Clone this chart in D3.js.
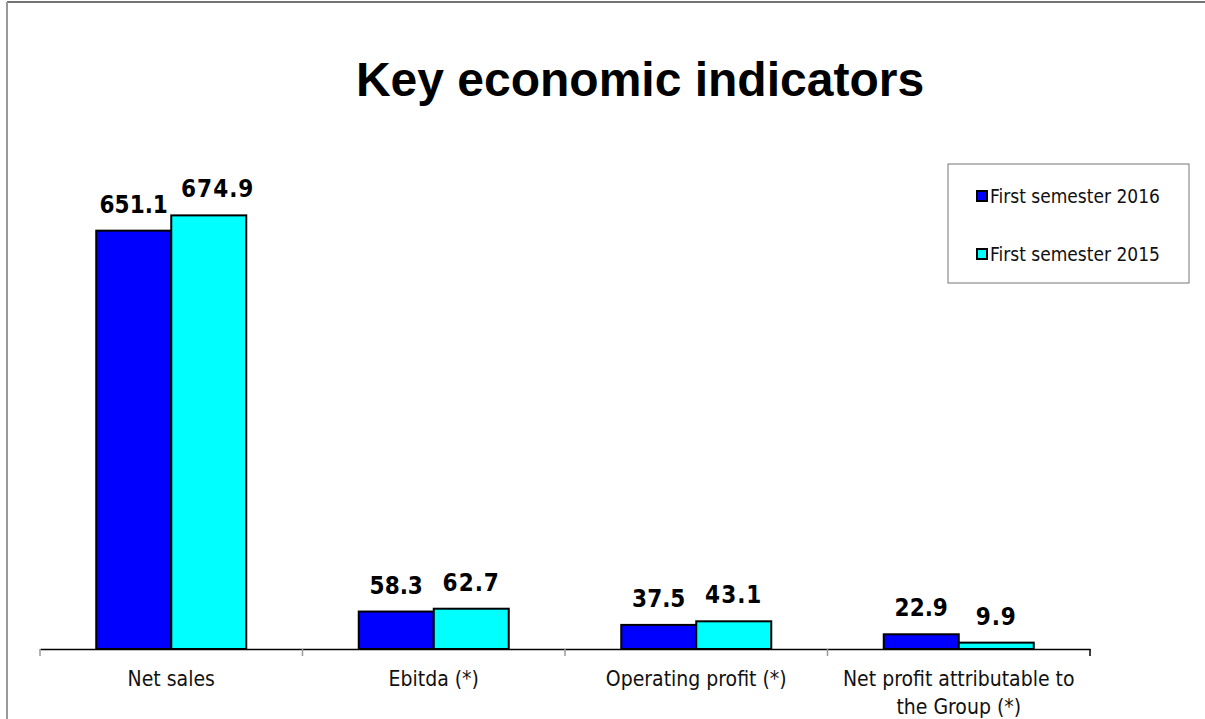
<!DOCTYPE html>
<html>
<head>
<meta charset="utf-8">
<script src="https://cdn.jsdelivr.net/npm/d3@7"></script>
<style>
	body { margin: 0; background: #fff; }
	svg { display: block; }
</style>
</head>
<body>
<svg id="chart"></svg>
<script>
// chart data
var categories = ["Net sales", "Ebitda (*)", "Operating profit (*)", "Net profit attributable to the Group (*)"];
var seriesNames = ["First semester 2016", "First semester 2015"];
var values2016 = [651.1, 58.3, 37.5, 22.9];
var values2015 = [674.9, 62.7, 43.1, 9.9];
var labelText2016 = ["651.1", "58.3", "37.5", "22.9"];
var labelText2015 = ["674.9", "62.7", "43.1", "9.9"];
var colors = ["#0000ff", "#00ffff"];

var width = 1205,
	height = 719;

var svg = d3.select("#chart")
	.attr("width", width)
	.attr("height", height);

// outer frame (only top and left are visible)
svg.append("line")
	.attr("x1", 7).attr("y1", 2).attr("x2", width).attr("y2", 2)
	.attr("stroke", "#444").attr("stroke-width", 1.5);
svg.append("line")
	.attr("x1", 7).attr("y1", 2).attr("x2", 7).attr("y2", height)
	.attr("stroke", "#999").attr("stroke-width", 2);

// title
svg.append("text")
	.attr("x", 640)
	.attr("y", 96)
	.attr("text-anchor", "middle")
	.attr("font-family", "Liberation Sans, Arial, sans-serif")
	.attr("font-weight", "bold")
	.attr("font-size", 48)
	.text("Key economic indicators");

var baseY = 649;

var x0 = d3.scaleBand()
	.domain(categories)
	.range([40, 1090])
	.paddingInner(0)
	.paddingOuter(0);

var x1 = d3.scaleBand()
	.domain(seriesNames)
	.range([0, x0.bandwidth()])
	.paddingInner(0)
	.paddingOuter(0.75);

var y = d3.scaleLinear()
	.domain([0, 800])
	.range([baseY, 135]);

var data = categories.map(function (c, i) {
	return {
		cat: c,
		bars: [
			{ series: seriesNames[0], value: values2016[i], label: labelText2016[i], k: 0, i: i },
			{ series: seriesNames[1], value: values2015[i], label: labelText2015[i], k: 1, i: i }
		]
	};
});

var groups = svg.selectAll(".group")
	.data(data)
	.enter()
	.append("g")
	.attr("class", "group")
	.attr("transform", function (d) { return "translate(" + x0(d.cat) + ",0)"; });

groups.selectAll("rect")
	.data(function (d) { return d.bars; })
	.enter()
	.append("rect")
	.attr("x", function (d) { return x1(d.series); })
	.attr("y", function (d) { return y(d.value); })
	.attr("width", x1.bandwidth())
	.attr("height", function (d) { return baseY - y(d.value); })
	.attr("fill", function (d) { return colors[d.k]; })
	.attr("stroke", "#000")
	.attr("stroke-width", 2);

// the tall 2015 label sits a bit right of centre in the original
function labelNudge(d) {
	if (d.k == 1 && d.i == 0) return 9;
	return 0;
}

groups.selectAll(".val")
	.data(function (d) { return d.bars; })
	.enter()
	.append("text")
	.attr("class", "val")
	.attr("x", function (d) { return x1(d.series) + x1.bandwidth() / 2 + labelNudge(d); })
	.attr("y", function (d) { return y(d.value) - 18; })
	.attr("text-anchor", "middle")
	.attr("font-family", "DejaVu Sans Condensed, DejaVu Sans, sans-serif")
	.attr("font-weight", "bold")
	.attr("font-size", 24)
	.attr("letter-spacing", function (d) { return d.k == 1 ? 1 : 0; })
	.attr("fill", "#000")
	.text(function (d) { return d.label; });

// x axis
var xAxis = d3.axisBottom(x0)
	.tickSize(0)
	.tickFormat("");

var axisG = svg.append("g")
	.attr("transform", "translate(0," + baseY + ")")
	.call(xAxis);
axisG.select(".domain")
	.attr("stroke", "#000")
	.attr("stroke-width", 1.5);

// ticks between categories
var tickXs = categories.map(function (c) { return x0(c); }).concat([x0.range()[1]]);
axisG.selectAll(".sep")
	.data(tickXs)
	.enter()
	.append("line")
	.attr("class", "sep")
	.attr("x1", function (d) { return d; })
	.attr("x2", function (d) { return d; })
	.attr("y1", 0)
	.attr("y2", 7)
	.attr("stroke", function (d, i) { return i == tickXs.length - 1 ? "#000" : "#999"; })
	.attr("stroke-width", 1.5);

// category labels, wrapped
var catLines = [["Net sales"], ["Ebitda (*)"], ["Operating profit (*)"], ["Net profit attributable to", "the Group (*)"]];
svg.selectAll(".cat")
	.data(categories)
	.enter()
	.append("text")
	.attr("class", "cat")
	.attr("text-anchor", "middle")
	.attr("font-family", "DejaVu Sans Condensed, DejaVu Sans, sans-serif")
	.attr("font-size", 21)
	.attr("fill", "#111")
	.each(function (d, i) {
		var t = d3.select(this);
		catLines[i].forEach(function (line, j) {
			t.append("tspan")
				.attr("x", x0(d) + x0.bandwidth() / 2)
				.attr("y", 686 + j * 28)
				.text(line);
		});
	});

// legend
var legend = svg.append("g").attr("transform", "translate(948,164)");
legend.append("rect")
	.attr("width", 241)
	.attr("height", 119)
	.attr("fill", "#fff")
	.attr("stroke", "#777")
	.attr("stroke-width", 1);

var items = legend.selectAll(".item")
	.data(seriesNames)
	.enter()
	.append("g")
	.attr("class", "item")
	.attr("transform", function (d, i) { return "translate(29," + (32 + i * 58) + ")"; });
items.append("rect")
	.attr("x", 0)
	.attr("y", -5)
	.attr("width", 10)
	.attr("height", 10)
	.attr("fill", function (d, i) { return colors[i]; })
	.attr("stroke", "#000")
	.attr("stroke-width", 2);
items.append("text")
	.attr("x", 13)
	.attr("y", 6.5)
	.attr("font-family", "DejaVu Sans Condensed, DejaVu Sans, sans-serif")
	.attr("font-size", 19)
	.attr("fill", "#111")
	.text(function (d) { return d; });
</script>
</body>
</html>
